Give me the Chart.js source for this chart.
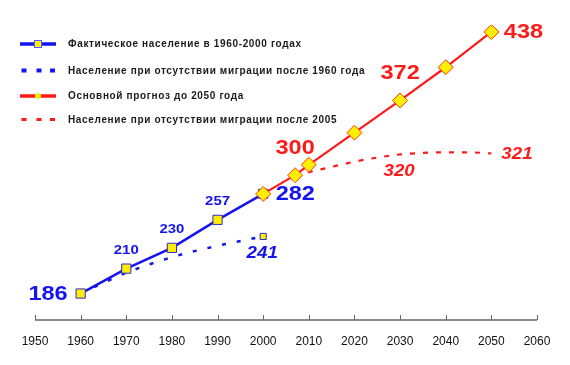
<!DOCTYPE html>
<html><head><meta charset="utf-8">
<script src="https://cdn.jsdelivr.net/npm/chart.js@4/dist/chart.umd.min.js"></script>
<style>html,body{margin:0;padding:0;background:#fff;overflow:hidden}</style>
</head><body>
<div style="width:570px;height:365px;position:relative">
<canvas id="c" width="570" height="365"></canvas>
</div>
<script>
// ---- data ----
const axisYears = [1950,1960,1970,1980,1990,2000,2010,2020,2030,2040,2050,2060];
const actualYears  = [1960,1970,1980,1990,2000];
const actualValues = [186,210,230,257,282];
const noMigr1960Years  = [1960,1970,1980,1990,2000];
const noMigr1960Values = [186,206,221,232,241];
const forecastYears  = [2000,2007,2010,2020,2030,2040,2050];
const forecastValues = [282,300,310,341,372,404,438];
const noMigr2005Years  = [2007,2010,2015,2020,2025,2030,2035,2040,2045,2050];
const noMigr2005Values = [300,303,308,313,317,320,321.5,322,322,321];
const seriesNames = [
  'Фактическое население в 1960-2000 годах',
  'Население при отсутствии миграции после 1960 года',
  'Основной прогноз до 2050 года',
  'Население при отсутствии миграции после 2005'
];
// labelled points: [datasetIndex, pointIndex, style]
const labelled = [
  [1,0,'bigLeft'],[1,1,'smallUp'],[1,2,'smallUp'],[1,3,'smallUp'],[1,4,'bigRight'],
  [2,4,'italDown'],
  [0,1,'bigUp'],[0,4,'bigUp'],[0,6,'bigRight'],
  [3,5,'italDown'],[3,9,'italRight']
];

const BLUE='#1414f0', RED='#ff1a1a', YEL='#ffee00';
const pts = (xs, ys) => xs.map((x,i)=>({x, y: ys[i]}));

const labelPlugin = {
  id:'labels',
  afterDatasetsDraw(chart){
    const ctx = chart.ctx;
    const styles = {
      bigLeft:  {font:'bold 21px Arial', sx:1.12, align:'right', dx:-13, dy:0.5},
      bigRight: {font:'bold 21px Arial', sx:1.12, align:'left', dx:12.5, dy:0},
      bigUp:    {font:'bold 21px Arial', sx:1.12, align:'center', dx:0, dy:-27.5},
      smallUp:  {font:'bold 13px Arial', sx:1.15, align:'center', dx:0, dy:-18},
      italDown: {font:'italic bold 17px Arial', sx:1.1, align:'center', dx:-1, dy:17},
      italRight:{font:'italic bold 17px Arial', sx:1.1, align:'left', dx:10, dy:0.5}
    };
    labelled.forEach(([d,i,s])=>{
      const el = chart.getDatasetMeta(d).data[i];
      const val = chart.data.datasets[d].data[i].y;
      const st = styles[s];
      const col = chart.data.datasets[d].borderColor;
      ctx.save();
      ctx.font = st.font;
      ctx.fillStyle = col;
      ctx.textBaseline = 'middle';
      ctx.textAlign = st.align;
      ctx.translate(el.x + st.dx, el.y + st.dy);
      ctx.scale(st.sx, 1);
      ctx.fillText(String(val), 0, 0);
      ctx.restore();
    });
  },
  afterDraw(chart){
    const ctx = chart.ctx;
    const xs = chart.scales.x;
    // axis line with upward ticks
    ctx.save();
    ctx.strokeStyle = '#666';
    ctx.lineWidth = 1.5;
    const y0 = xs.top;
    ctx.beginPath();
    ctx.moveTo(xs.getPixelForValue(axisYears[0]), y0);
    ctx.lineTo(xs.getPixelForValue(axisYears[axisYears.length-1]), y0);
    ctx.stroke();
    ctx.lineWidth = 1;
    axisYears.forEach(v=>{
      const x = Math.round(xs.getPixelForValue(v))+0.5;
      ctx.beginPath(); ctx.moveTo(x, y0); ctx.lineTo(x, y0-5); ctx.stroke();
    });
    ctx.restore();
    // legend
    const rows = [44, 70.5, 96, 119.5];
    ctx.save();
    ctx.font = 'bold 10px Arial';
    ctx.letterSpacing = '0.65px';
    ctx.fillStyle = '#1a1a1a';
    ctx.textBaseline = 'middle';
    seriesNames.forEach((t,k)=>ctx.fillText(t, 68, rows[k]+0.5));
    ctx.restore();
    ctx.save();
    // row 1
    ctx.strokeStyle = BLUE; ctx.lineWidth = 3.5;
    ctx.beginPath(); ctx.moveTo(20, rows[0]); ctx.lineTo(56, rows[0]); ctx.stroke();
    ctx.fillStyle = YEL; ctx.strokeStyle = '#5a5aff'; ctx.lineWidth = 1;
    ctx.fillRect(34, rows[0]-4, 8, 8); ctx.strokeRect(34.5, rows[0]-3.5, 7, 7);
    // row 2
    ctx.fillStyle = BLUE;
    [21.5, 36.5, 50].forEach(x=>ctx.fillRect(x, rows[1]-2, 5, 4));
    // row 3
    ctx.strokeStyle = RED; ctx.lineWidth = 3.5;
    ctx.beginPath(); ctx.moveTo(20, rows[2]); ctx.lineTo(56, rows[2]); ctx.stroke();
    ctx.fillStyle = YEL; ctx.beginPath(); ctx.arc(38, rows[2], 3, 0, Math.PI*2); ctx.fill();
    // row 4
    ctx.fillStyle = RED;
    [21.5, 36.5, 50].forEach(x=>ctx.fillRect(x, rows[3]-1.5, 5, 3));
    ctx.restore();
  }
};

new Chart(document.getElementById('c'), {
  type:'line',
  data:{ datasets:[
    { label: seriesNames[2], data: pts(forecastYears, forecastValues),
      borderColor: RED, borderWidth: 2.2, pointStyle:'rectRot', pointRadius: 7.5,
      pointBackgroundColor: YEL, pointBorderColor: '#ff3b1a', pointBorderWidth: 1, tension: 0 },
    { label: seriesNames[0], data: pts(actualYears, actualValues),
      borderColor: BLUE, borderWidth: 2.5, pointStyle:'rect', pointRadius: 6.5,
      pointBackgroundColor: YEL, pointBorderColor: '#2a2ad0', pointBorderWidth: 1, tension: 0 },
    { label: seriesNames[1], data: pts(noMigr1960Years, noMigr1960Values),
      borderColor: BLUE, borderWidth: 2.5, borderDash:[4,11], pointStyle:'rect',
      pointRadius: [0,0,0,0,4.3], pointBackgroundColor: YEL, pointBorderColor: '#2a2ad0', pointBorderWidth: 1,
      cubicInterpolationMode:'monotone' },
    { label: seriesNames[3], data: pts(noMigr2005Years, noMigr2005Values),
      borderColor: RED, borderWidth: 2.2, borderDash:[5,8], pointRadius: 0,
      cubicInterpolationMode:'monotone' }
  ]},
  options:{
    responsive:false, animation:false,
    layout:{ padding:{ left:35, right:33, top:24.7, bottom:1.6 } },
    plugins:{ legend:{display:false}, tooltip:{enabled:false} },
    scales:{
      x:{ type:'linear', min:1950, max:2060,
          grid:{display:false, drawTicks:false}, border:{display:false},
          afterBuildTicks(s){ s.ticks = axisYears.map(v=>({value:v})); },
          ticks:{ autoSkip:false, maxRotation:0, padding:14.5, color:'#111',
                  font:{family:'Arial', size:12}, callback:(v)=>String(v) } },
      y:{ display:false, min:160.5, max:445 }
    }
  },
  plugins:[labelPlugin]
});
</script>
</body></html>
